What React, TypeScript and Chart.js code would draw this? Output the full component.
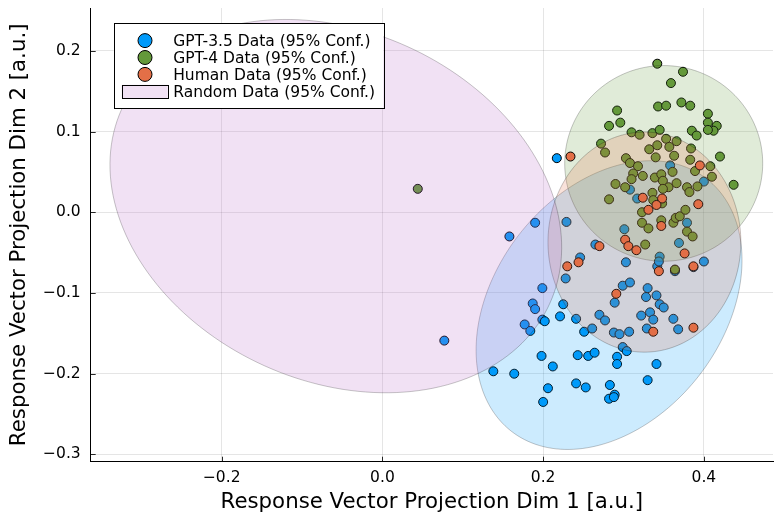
import React, { useEffect, useRef } from 'react';
import { Chart, registerables } from 'chart.js';

Chart.register(...registerables);

const FONT = '"DejaVu Sans", "Liberation Sans", sans-serif';

// ---------- axes ----------
const xRange = [-0.363, 0.486];
const yRange = [-0.309, 0.253];
const xTicks = [-0.2, 0.0, 0.2, 0.4];
const yTicks = [-0.3, -0.2, -0.1, 0.0, 0.1, 0.2];
const xTitle = 'Response Vector Projection Dim 1 [a.u.]';
const yTitle = 'Response Vector Projection Dim 2 [a.u.]';

// ---------- series ----------
const seriesLabels = [
  'GPT-3.5 Data (95% Conf.)',
  'GPT-4 Data (95% Conf.)',
  'Human Data (95% Conf.)',
  'Random Data (95% Conf.)',
];
const seriesColors = ['#009AFA', '#64993A', '#E36F47', '#B969C8'];

const gpt35X = [0.077, 0.199, 0.187, 0.190, 0.177, 0.184, 0.199, 0.202, 0.225, 0.228, 0.221, 0.241, 0.251, 0.261, 0.270, 0.277, 0.138, 0.164, 0.198, 0.212, 0.206, 0.200, 0.243, 0.256, 0.264, 0.241, 0.253, 0.283, 0.289, 0.282, 0.288, 0.292, 0.292, 0.299, 0.304, 0.330, 0.341, 0.288, 0.295, 0.307, 0.289, 0.299, 0.308, 0.330, 0.328, 0.341, 0.345, 0.350, 0.322, 0.333, 0.337, 0.329, 0.362, 0.368, 0.303, 0.400, 0.387, 0.364, 0.345, 0.246, 0.229, 0.265, 0.301, 0.369, 0.342, 0.379, 0.317, 0.400, 0.308, 0.217, 0.358, 0.158, 0.190, 0.344];
const gpt35Y = [-0.159, -0.094, -0.113, -0.120, -0.139, -0.147, -0.133, -0.135, -0.114, -0.082, -0.129, -0.132, -0.148, -0.144, -0.127, -0.134, -0.197, -0.200, -0.178, -0.191, -0.218, -0.235, -0.177, -0.178, -0.174, -0.212, -0.217, -0.214, -0.226, -0.231, -0.229, -0.179, -0.188, -0.167, -0.172, -0.208, -0.188, -0.149, -0.151, -0.148, -0.112, -0.091, -0.087, -0.094, -0.105, -0.103, -0.114, -0.118, -0.128, -0.124, -0.133, -0.144, -0.132, -0.145, -0.062, -0.061, -0.068, -0.073, -0.055, -0.056, -0.012, -0.040, -0.021, -0.038, -0.067, -0.013, 0.017, 0.038, 0.028, 0.067, 0.058, -0.030, -0.013, -0.061];

const gpt4X = [0.342, 0.374, 0.359, 0.343, 0.353, 0.372, 0.383, 0.292, 0.282, 0.296, 0.405, 0.405, 0.416, 0.412, 0.405, 0.385, 0.391, 0.310, 0.320, 0.336, 0.345, 0.272, 0.277, 0.353, 0.366, 0.332, 0.342, 0.357, 0.340, 0.363, 0.384, 0.383, 0.420, 0.408, 0.410, 0.437, 0.389, 0.303, 0.308, 0.318, 0.312, 0.324, 0.310, 0.290, 0.302, 0.339, 0.347, 0.361, 0.349, 0.356, 0.366, 0.379, 0.392, 0.336, 0.282, 0.337, 0.323, 0.323, 0.331, 0.347, 0.362, 0.365, 0.370, 0.377, 0.379, 0.386, 0.327, 0.364, 0.044, 0.382, 0.349, 0.348];
const gpt4Y = [0.184, 0.174, 0.160, 0.131, 0.132, 0.136, 0.132, 0.126, 0.107, 0.111, 0.122, 0.111, 0.107, 0.101, 0.102, 0.101, 0.095, 0.099, 0.096, 0.098, 0.102, 0.085, 0.074, 0.091, 0.088, 0.078, 0.083, 0.081, 0.068, 0.070, 0.079, 0.065, 0.069, 0.057, 0.044, 0.034, 0.051, 0.067, 0.061, 0.057, 0.048, 0.045, 0.041, 0.035, 0.031, 0.043, 0.047, 0.050, 0.039, 0.031, 0.036, 0.031, 0.032, 0.024, 0.016, 0.015, 0.000, -0.013, -0.020, -0.010, -0.013, -0.007, -0.005, 0.003, -0.024, -0.030, -0.040, -0.071, 0.029, 0.025, 0.029, 0.011];

const humanX = [0.234, 0.395, 0.324, 0.348, 0.341, 0.331, 0.393, 0.347, 0.302, 0.306, 0.316, 0.270, 0.244, 0.230, 0.376, 0.387, 0.344, 0.291, 0.337, 0.387];
const humanY = [0.069, 0.058, 0.018, 0.017, 0.009, 0.003, 0.010, -0.017, -0.034, -0.042, -0.047, -0.042, -0.062, -0.067, -0.051, -0.067, -0.073, -0.101, -0.148, -0.143];

// ---------- 95% confidence ellipses (center, semi-axes, rotation in degrees) ----------
const gpt35Ellipse = { cx: 0.282, cy: -0.115, a: 0.198, b: 0.142, angle: 52 };
const gpt4Ellipse = { cx: 0.350, cy: 0.0605, a: 0.1232, b: 0.1212, angle: 0 };
const humanEllipse = { cx: 0.326, cy: -0.037, a: 0.120, b: 0.1363, angle: 0 };
const randomEllipse = { cx: -0.058, cy: 0.0076, a: 0.2923, b: 0.2168, angle: -24.2 };

const datasetEllipses = [gpt35Ellipse, gpt4Ellipse, humanEllipse];

function hexToRgba(hex: string, a: number) {
  const n = parseInt(hex.slice(1), 16);
  return `rgba(${(n >> 16) & 255},${(n >> 8) & 255},${n & 255},${a})`;
}

function fmtTick(v: number) {
  const r = Math.round(v * 10) / 10;
  if (Math.abs(r) < 1e-9) return '0.0';
  return (r < 0 ? '\u2212' : '') + Math.abs(r).toFixed(1);
}

function drawEllipse(chart: any, e: any, color: string) {
  const { ctx, chartArea, scales } = chart;
  const xs = scales.x;
  const ys = scales.y;
  const th = (e.angle * Math.PI) / 180;
  ctx.save();
  ctx.beginPath();
  ctx.rect(chartArea.left, chartArea.top, chartArea.right - chartArea.left, chartArea.bottom - chartArea.top);
  ctx.clip();
  ctx.beginPath();
  const N = 180;
  for (let i = 0; i <= N; i++) {
    const t = (i / N) * Math.PI * 2;
    const dx = e.a * Math.cos(t) * Math.cos(th) - e.b * Math.sin(t) * Math.sin(th);
    const dy = e.a * Math.cos(t) * Math.sin(th) + e.b * Math.sin(t) * Math.cos(th);
    const px = xs.getPixelForValue(e.cx + dx);
    const py = ys.getPixelForValue(e.cy + dy);
    if (i === 0) ctx.moveTo(px, py);
    else ctx.lineTo(px, py);
  }
  ctx.closePath();
  ctx.fillStyle = hexToRgba(color, 0.2);
  ctx.fill();
  ctx.strokeStyle = 'rgba(0,0,0,0.22)';
  ctx.lineWidth = 1;
  ctx.stroke();
  ctx.restore();
}

const ellipsePlugin = {
  id: 'ellipses',
  afterDatasetDraw(chart: any, args: any) {
    const e = datasetEllipses[args.index];
    if (e) drawEllipse(chart, e, seriesColors[args.index]);
  },
  afterDatasetsDraw(chart: any) {
    drawEllipse(chart, randomEllipse, seriesColors[3]);
  },
};

const innerTicksPlugin = {
  id: 'innerTicks',
  afterDraw(chart: any) {
    const { ctx, chartArea, scales } = chart;
    ctx.save();
    ctx.strokeStyle = 'rgba(0,0,0,0.85)';
    ctx.lineWidth = 1;
    ctx.beginPath();
    xTicks.forEach((v) => {
      const px = Math.round(scales.x.getPixelForValue(v)) + 0.5;
      ctx.moveTo(px, chartArea.bottom);
      ctx.lineTo(px, chartArea.bottom - 5);
    });
    yTicks.forEach((v) => {
      const py = Math.round(scales.y.getPixelForValue(v)) + 0.5;
      ctx.moveTo(chartArea.left, py);
      ctx.lineTo(chartArea.left + 5, py);
    });
    ctx.stroke();
    ctx.restore();
  },
};

const legendPlugin = {
  id: 'juliaLegend',
  afterDraw(chart: any) {
    const { ctx, chartArea } = chart;
    const L = chartArea.left + 23;
    const T = chartArea.top + 15.3;
    const W = 269.6;
    const H = 85.4;
    ctx.save();
    ctx.fillStyle = '#ffffff';
    ctx.fillRect(L, T, W, H);
    ctx.strokeStyle = '#000000';
    ctx.lineWidth = 1;
    ctx.strokeRect(Math.round(L) + 0.5, Math.round(T) + 0.5, Math.round(W), Math.round(H));
    ctx.font = `15.5px ${FONT}`;
    ctx.textBaseline = 'alphabetic';
    ctx.textAlign = 'left';
    const baselines = [22.7, 39.6, 56.5, 73.4];
    seriesLabels.forEach((label, i) => {
      const by = T + baselines[i];
      if (i < 3) {
        ctx.beginPath();
        ctx.arc(L + 31.3, by - 5.4, 7, 0, Math.PI * 2);
        ctx.fillStyle = seriesColors[i];
        ctx.fill();
        ctx.strokeStyle = '#000';
        ctx.lineWidth = 1;
        ctx.stroke();
      } else {
        ctx.fillStyle = hexToRgba(seriesColors[3], 0.2);
        ctx.fillRect(L + 8, by - 11.9, 46, 13.3);
        ctx.strokeStyle = '#000';
        ctx.lineWidth = 1;
        ctx.strokeRect(Math.round(L + 8) + 0.5, Math.round(by - 11.9) + 0.5, 46, 13);
      }
      ctx.fillStyle = '#000';
      ctx.fillText(label, L + 59.5, by);
    });
    ctx.restore();
  },
};

function toPoints(xs: number[], ys: number[]) {
  return xs.map((x, i) => ({ x, y: ys[i] }));
}

export default function App() {
  const canvasRef = useRef<HTMLCanvasElement | null>(null);

  useEffect(() => {
    if (!canvasRef.current) return;
    const mk = (i: number, xs: number[], ys: number[], order: number) => ({
      label: seriesLabels[i],
      data: toPoints(xs, ys),
      backgroundColor: seriesColors[i],
      borderColor: '#000000',
      borderWidth: 1,
      pointRadius: 4.5,
      pointHoverRadius: 4.5,
      order,
    });
    const chart = new Chart(canvasRef.current, {
      type: 'scatter',
      data: {
        datasets: [
          mk(0, gpt35X, gpt35Y, 3),
          mk(1, gpt4X, gpt4Y, 2),
          mk(2, humanX, humanY, 1),
        ],
      },
      options: {
        animation: false,
        responsive: false,
        devicePixelRatio: 1,
        events: [],
        layout: { autoPadding: false, padding: { top: 8, right: 1, left: 0, bottom: 0 } },
        plugins: {
          legend: { display: false },
          tooltip: { enabled: false },
        },
        scales: {
          x: {
            type: 'linear',
            min: xRange[0],
            max: xRange[1],
            afterBuildTicks: (s: any) => {
              s.ticks = xTicks.map((v) => ({ value: v }));
            },
            afterFit: (s: any) => {
              s.height = 51.3;
              s.paddingLeft = 0;
              s.paddingRight = 0;
            },
            ticks: {
              callback: (v: any) => fmtTick(Number(v)),
              font: { family: FONT, size: 15.5 },
              color: '#000',
              padding: 7,
              maxRotation: 0,
              autoSkip: false,
            },
            grid: { color: 'rgba(0,0,0,0.1)', lineWidth: 1, drawTicks: false },
            border: { display: true, color: '#000', width: 1 },
            title: {
              display: true,
              text: xTitle,
              color: '#000',
              font: { family: FONT, size: 21.3, lineHeight: 0.95 },
              padding: { top: 0, bottom: 0 },
            },
          },
          y: {
            type: 'linear',
            min: yRange[0],
            max: yRange[1],
            afterBuildTicks: (s: any) => {
              s.ticks = yTicks.map((v) => ({ value: v }));
            },
            afterFit: (s: any) => {
              s.width = 90.7;
              s.paddingTop = 0;
              s.paddingBottom = 0;
            },
            ticks: {
              callback: (v: any) => fmtTick(Number(v)),
              font: { family: FONT, size: 15.5 },
              color: '#000',
              padding: 10,
              autoSkip: false,
            },
            grid: { color: 'rgba(0,0,0,0.1)', lineWidth: 1, drawTicks: false },
            border: { display: true, color: '#000', width: 1 },
            title: {
              display: true,
              text: yTitle,
              color: '#000',
              font: { family: FONT, size: 21.3, lineHeight: 1 },
              padding: { top: 9, bottom: 0 },
            },
          },
        },
      },
      plugins: [ellipsePlugin, innerTicksPlugin, legendPlugin],
    } as any);
    return () => chart.destroy();
  }, []);

  return (
    <div style={{ position: 'absolute', left: 0, top: 0, width: 774, height: 513, background: '#fff' }}>
      <canvas ref={canvasRef} width={774} height={513} style={{ display: 'block' }} />
    </div>
  );
}
